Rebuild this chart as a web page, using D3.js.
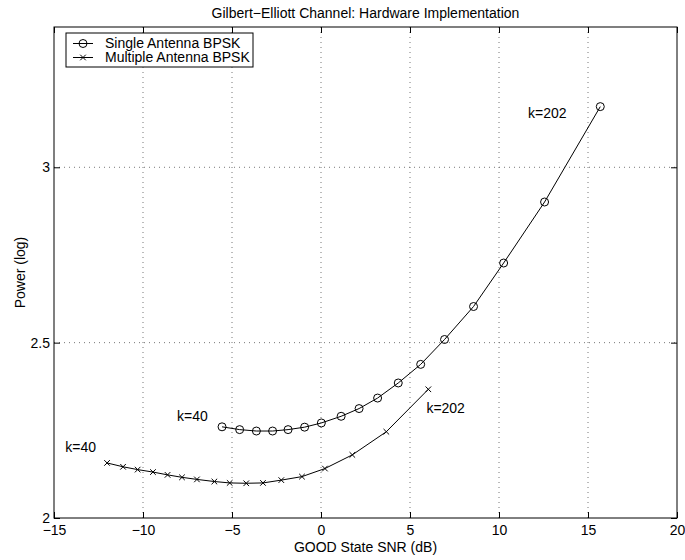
<!DOCTYPE html>
<html>
<head>
<meta charset="utf-8">
<script src="https://cdn.jsdelivr.net/npm/d3@7"></script>
<style>
  body { margin: 0; background: #fff; }
  text { font-family: "Liberation Sans", Arial, Helvetica, sans-serif; fill: #000; }
</style>
</head>
<body>
<div id="chart-container"></div>
<script>
// Data
const singleX = [-5.56, -4.57, -3.63, -2.72, -1.85, -0.92, 0.02, 1.13, 2.14, 3.18, 4.34, 5.6, 6.94, 8.57, 10.26, 12.56, 15.69];
const singleY = [2.260, 2.252, 2.248, 2.248, 2.252, 2.259, 2.271, 2.290, 2.312, 2.342, 2.385, 2.438, 2.509, 2.603, 2.727, 2.901, 3.173];
const multiX = [-12.02, -11.12, -10.3, -9.44, -8.62, -7.81, -6.97, -5.99, -5.13, -4.2, -3.26, -2.23, -1.07, 0.22, 1.76, 3.67, 6.03];
const multiY = [2.157, 2.146, 2.138, 2.131, 2.123, 2.116, 2.110, 2.104, 2.100, 2.099, 2.100, 2.108, 2.118, 2.141, 2.180, 2.246, 2.367];
const xTicks = [-15, -10, -5, 0, 5, 10, 15, 20];
const yTicks = [2, 2.5, 3];
const seriesNames = ['Single Antenna BPSK', 'Multiple Antenna BPSK'];
const notes = [
  { text: 'k=40', x: -8.09, y: 2.291 },
  { text: 'k=40', x: -14.37, y: 2.201 },
  { text: 'k=202', x: 5.92, y: 2.313 },
  { text: 'k=202', x: 11.63, y: 3.155 }
];

const svgWidth = 685;
const svgHeight = 560;
const margin = { top: 27, right: 8, bottom: 42, left: 54 };
const chartWidth = svgWidth - margin.left - margin.right;
const chartHeight = svgHeight - margin.top - margin.bottom;
const fontSize = 14;
const tickLen = 6;

const svg = d3.select('#chart-container')
  .append('svg')
  .attr('width', svgWidth)
  .attr('height', svgHeight);

const chart = svg.append('g')
  .attr('transform', `translate(${margin.left}, ${margin.top})`);

const xScale = d3.scaleLinear().domain([-15, 20]).range([0, chartWidth]);
const yScale = d3.scaleLinear().domain([2, 3.4]).range([chartHeight, 0]);

const fmt = d => String(d).replace('-', '\u2212');

// Dotted grid
chart.append('g')
  .selectAll('line')
  .data(xTicks.slice(1, -1))
  .enter()
  .append('line')
  .attr('x1', d => xScale(d)).attr('x2', d => xScale(d))
  .attr('y1', 0).attr('y2', chartHeight)
  .attr('stroke', '#777').attr('stroke-width', 1)
  .attr('stroke-dasharray', '1,4');

chart.append('g')
  .selectAll('line')
  .data(yTicks.slice(1))
  .enter()
  .append('line')
  .attr('y1', d => yScale(d)).attr('y2', d => yScale(d))
  .attr('x1', 0).attr('x2', chartWidth)
  .attr('stroke', '#777').attr('stroke-width', 1)
  .attr('stroke-dasharray', '1,4');

// Axes (ticks inside, on all four sides)
const axisStyle = g => {
  g.select('.domain').remove();
  g.selectAll('line').attr('stroke', '#000');
  g.selectAll('text').attr('font-size', fontSize).attr('font-family', null);
};

chart.append('g')
  .attr('transform', `translate(0, ${chartHeight})`)
  .call(d3.axisBottom(xScale).tickValues(xTicks).tickSize(-tickLen).tickPadding(7).tickFormat(fmt))
  .call(axisStyle);

chart.append('g')
  .call(d3.axisTop(xScale).tickValues(xTicks).tickSize(-tickLen).tickFormat(''))
  .call(axisStyle);

chart.append('g')
  .call(d3.axisLeft(yScale).tickValues(yTicks).tickSize(-tickLen).tickPadding(4).tickFormat(fmt))
  .call(axisStyle);

chart.append('g')
  .attr('transform', `translate(${chartWidth}, 0)`)
  .call(d3.axisRight(yScale).tickValues(yTicks).tickSize(-tickLen).tickFormat(''))
  .call(axisStyle);

chart.append('rect')
  .attr('width', chartWidth)
  .attr('height', chartHeight)
  .attr('fill', 'none')
  .attr('stroke', '#000')
  .attr('stroke-width', 1);

// Series
const line = d3.line()
  .x(d => xScale(d[0]))
  .y(d => yScale(d[1]));

const singleData = singleX.map((x, i) => [x, singleY[i]]);
const multiData = multiX.map((x, i) => [x, multiY[i]]);

chart.append('path')
  .datum(singleData)
  .attr('d', line)
  .attr('fill', 'none')
  .attr('stroke', '#000')
  .attr('stroke-width', 1);

chart.append('path')
  .datum(multiData)
  .attr('d', line)
  .attr('fill', 'none')
  .attr('stroke', '#000')
  .attr('stroke-width', 1);

const drawCircle = (g, cx, cy) => g.append('circle')
  .attr('cx', cx).attr('cy', cy).attr('r', 4)
  .attr('fill', 'none').attr('stroke', '#000').attr('stroke-width', 1);

const drawCross = (g, cx, cy) => {
  const s = 2.8;
  g.append('path')
    .attr('d', `M${cx - s},${cy - s}L${cx + s},${cy + s}M${cx - s},${cy + s}L${cx + s},${cy - s}`)
    .attr('stroke', '#000').attr('stroke-width', 1);
};

singleData.forEach(d => drawCircle(chart, xScale(d[0]), yScale(d[1])));
multiData.forEach(d => drawCross(chart, xScale(d[0]), yScale(d[1])));

// Annotations
chart.selectAll('.note')
  .data(notes)
  .enter()
  .append('text')
  .attr('class', 'note')
  .attr('x', d => xScale(d.x))
  .attr('y', d => yScale(d.y))
  .attr('dy', '0.35em')
  .attr('font-size', fontSize)
  .text(d => d.text);

// Legend
const legend = svg.append('g')
  .attr('transform', 'translate(66, 33)');

legend.append('rect')
  .attr('width', 187)
  .attr('height', 34)
  .attr('fill', '#fff')
  .attr('stroke', '#000')
  .attr('stroke-width', 1);

seriesNames.forEach((name, i) => {
  const y = 10.5 + i * 14;
  legend.append('line')
    .attr('x1', 7).attr('x2', 27)
    .attr('y1', y).attr('y2', y)
    .attr('stroke', '#000').attr('stroke-width', 1);
  if (i === 0) drawCircle(legend, 17, y);
  else drawCross(legend, 17, y);
  legend.append('text')
    .attr('x', 39)
    .attr('y', y)
    .attr('dy', '0.35em')
    .attr('font-size', fontSize)
    .text(name);
});

// Titles
svg.append('text')
  .attr('x', margin.left + chartWidth / 2)
  .attr('y', 18)
  .attr('text-anchor', 'middle')
  .attr('font-size', fontSize)
  .text('Gilbert\u2212Elliott Channel: Hardware Implementation');

svg.append('text')
  .attr('x', margin.left + chartWidth / 2)
  .attr('y', 552)
  .attr('text-anchor', 'middle')
  .attr('font-size', fontSize)
  .text('GOOD State SNR (dB)');

svg.append('text')
  .attr('transform', `translate(25, ${margin.top + chartHeight / 2}) rotate(-90)`)
  .attr('text-anchor', 'middle')
  .attr('font-size', fontSize)
  .text('Power (log)');
</script>
</body>
</html>
